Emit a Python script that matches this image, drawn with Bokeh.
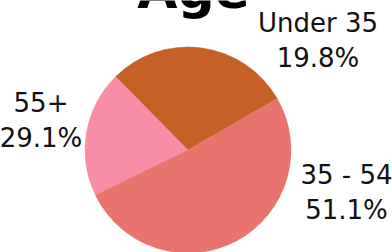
import math
from bokeh.plotting import figure
from bokeh.models import Range1d, ColumnDataSource
from bokeh.core.properties import value
from bokeh.embed import file_html
from bokeh.resources import INLINE

# ---- data ----
title_text = "Age"
categories = ["55+", "Under 35", "35 - 54"]          # drawing order (anticlockwise)
shares = [29.1, 19.8, 51.1]                             # percent
colors = ["#C56028", "#F78EA6", "#E9736D"]

label_names = ["Under 35", "35 - 54", "55+"]
label_values = [19.8, 51.1, 29.1]

# ---- layout (pixels) ----
W, H = 392, 252
cx, cy, R = 187.5, 149.5, 103          # pie centre (image coords) and radius
start_deg = 30.0
label_x = [317.5, 346.0, 40.5]
label_name_y = [22.7, 174.0, 101.0]     # text anchors (image coords)
label_val_y = [57.7, 209.0, 137.0]
title_x, title_y = 193.0, -11.0
FONT = "DejaVu Sans"

total = sum(shares)
starts, ends = [], []
a = math.radians(start_deg)
for s in shares:
    starts.append(a)
    a += 2 * math.pi * s / total
    ends.append(a)

p = figure(width=W, height=H, output_backend="svg", toolbar_location=None,
           x_range=Range1d(0, W), y_range=Range1d(0, H), min_border=0)
p.axis.visible = False
p.grid.visible = False
p.outline_line_color = None
p.background_fill_color = "white"
p.border_fill_color = "white"

src = ColumnDataSource(dict(x=[cx] * len(shares), y=[H - cy] * len(shares),
                            start=starts, end=ends, color=colors, cat=categories))
p.wedge(x="x", y="y", radius=R, start_angle="start", end_angle="end",
        direction="anticlock", fill_color="color", line_color="color",
        line_width=0.5, source=src)

lsrc = ColumnDataSource(dict(
    x=label_x,
    yn=[H - v for v in label_name_y],
    yv=[H - v for v in label_val_y],
    name=label_names,
    val=[f"{v:.1f}%" for v in label_values],
))
p.text(x="x", y="yn", text="name", source=lsrc, text_align="center",
       text_baseline="alphabetic", text_font=value(FONT),
       text_font_size="26px", text_color="#111111")
p.text(x="x", y="yv", text="val", source=lsrc, text_align="center",
       text_baseline="alphabetic", text_font=value(FONT),
       text_font_size="26px", text_color="#111111")

tsrc = ColumnDataSource(dict(x=[title_x], y=[H - title_y], t=[title_text]))
p.text(x="x", y="y", text="t", source=tsrc, text_align="center",
       text_baseline="alphabetic", text_font=value(FONT),
       text_font_size="52px", text_font_style="bold", text_color="#000000")

open("out.html", "w").write(file_html(p, INLINE))
